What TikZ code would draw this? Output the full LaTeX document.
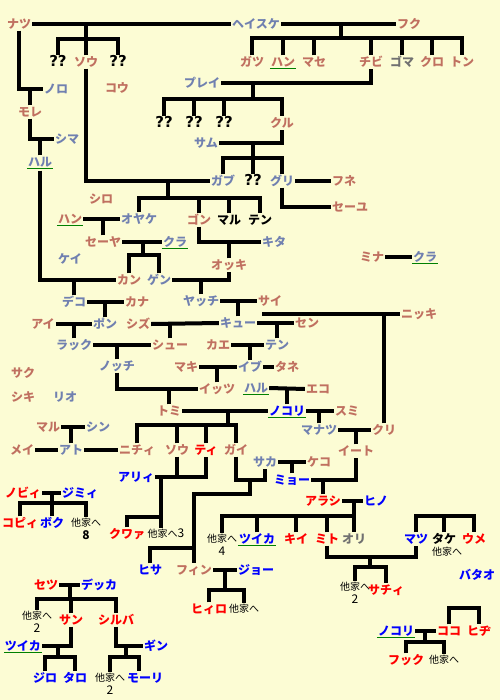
\documentclass[tikz,border=0pt]{standalone}
\usepackage{fontspec}
\newfontfamily\jpfont{Noto Sans CJK JP}
\newfontfamily\djvfont{DejaVu Sans}
\definecolor{bgc}{HTML}{FCFCD4}
\definecolor{brn}{HTML}{C07060}
\definecolor{bgr}{HTML}{7080B0}
\definecolor{blu}{HTML}{0000FF}
\definecolor{rd}{HTML}{FF0000}
\definecolor{gry}{HTML}{707070}
\definecolor{ulg}{HTML}{008000}
\newcommand{\dg}[1]{{\fontsize{12}{13}\selectfont #1}}
\tikzset{
  nm/.style={font=\jpfont\bfseries\fontsize{12}{12}\selectfont, inner sep=1pt, text height=10pt, text depth=0.8pt},
  nb/.style={nm,text=brn}, ng/.style={nm,text=bgr}, nu/.style={nm,text=blu},
  nr/.style={nm,text=rd}, nk/.style={nm,text=black}, ny/.style={nm,text=gry},
  nq/.style={font=\djvfont\bfseries\fontsize{15}{15}\selectfont, inner sep=1pt, text height=10pt, text depth=0.8pt},
  oth/.style={font=\jpfont\fontsize{10}{13}\selectfont, inner sep=1pt, align=center},
  ln/.style={line width=4pt},
  ul/.style={draw=ulg, line width=1.5pt},
}
\begin{document}
\begin{tikzpicture}[x=1pt,y=-1pt]
\fill[bgc] (0,0) rectangle (500,700);
\useasboundingbox (0,0) rectangle (500,700);
% names
\node[nb] (natsu) at (19,24) {ナツ};
\node[ng] (heisuke) at (256,24) {ヘイスケ};
\node[nb] (fuku) at (409,24) {フク};
\node[nq] (qa) at (58,62) {??};
\node[nb] (sou) at (86,62) {ソウ};
\node[nq] (qb) at (118,62) {??};
\node[nb] (kou) at (117,88) {コウ};
\node[ng] (noro) at (56,89) {ノロ};
\node[nb] (more) at (30,112) {モレ};
\node[ng] (shima) at (67,139) {シマ};
\node[ng] (haru) at (40,162) {ハル};
\foreach \n/\x/\st/\tx in {gatsu/252/nb/ガツ, han/283/nb/ハン, mase/314/nb/マセ, chibi/371/nb/チビ, goma/402/ny/ゴマ, kuro/432/nb/クロ, ton/462/nb/トン}
  \node[\st] (\n) at (\x,62) {\tx};
\node[ng] (purei) at (202,83) {プレイ};
\foreach \n/\x in {qc/164,qd/194,qe/224}
  \node[nq] (\n) at (\x,123) {??};
\node[nb] (kuru) at (282,123) {クル};
\node[ng] (samu) at (206,143) {サム};
\node[ng] (gabu) at (223,181) {ガブ};
\node[nq] (qf) at (253,181) {??};
\node[ng] (guri) at (282,181) {グリ};
\node[nb] (fune) at (344,181) {フネ};
\node[nb] (seeyu) at (350,207) {セーユ};
\node[nb] (shiro) at (101,199) {シロ};
\node[nb] (han2) at (70,219) {ハン};
\node[ng] (oyake) at (139,219) {オヤケ};
\node[nb] (gon) at (199,220) {ゴン};
\node[nk] (maru) at (229,220) {マル};
\node[nk] (ten) at (260,220) {テン};
\node[ng] (kita) at (274,242) {キタ};
\node[nb] (seeya) at (103,242) {セーヤ};
\node[ng] (kura) at (175,242) {クラ};
\node[ng] (kei) at (70,259) {ケイ};
\node[nb] (mina) at (372,257) {ミナ};
\node[ng] (kura2) at (425,257) {クラ};
\node[nb] (okki) at (229,265) {オッキ};
\node[nb] (kan) at (129,280) {カン};
\node[ng] (gen) at (159,280) {ゲン};
\node[ng] (deko) at (74,302) {デコ};
\node[nb] (kana) at (137,302) {カナ};
\node[ng] (yacchi) at (201,301) {ヤッチ};
\node[nb] (sai) at (270,301) {サイ};
\node[nb] (nikki) at (419,314) {ニッキ};
\node[nb] (ai) at (43,324) {アイ};
\node[ng] (pon) at (105,324) {ポン};
\node[nb] (shizu) at (138,324) {シズ};
\node[ng] (kyuu) at (238,323) {キュー};
\node[nb] (sen) at (307,323) {セン};
\node[ng] (rakku) at (74,345) {ラック};
\node[nb] (shuu) at (170,345) {シュー};
\node[nb] (kae) at (218,345) {カエ};
\node[ng] (ten2) at (277,345) {テン};
\node[ng] (nocchi) at (117,366) {ノッチ};
\node[nb] (maki) at (186,367) {マキ};
\node[ng] (ibu) at (250,367) {イブ};
\node[nb] (tane) at (287,367) {タネ};
\node[nb] (saku) at (23,373) {サク};
\node[nb] (shiki) at (23,397) {シキ};
\node[ng] (rio) at (65,397) {リオ};
\node[nb] (ittsu) at (217,389) {イッツ};
\node[ng] (haru2) at (256,388) {ハル};
\node[nb] (eko) at (318,389) {エコ};
\node[nb] (tomi) at (169,411) {トミ};
\node[nu] (nokori) at (287,411) {ノコリ};
\node[nb] (sumi) at (347,411) {スミ};
\node[nb] (maru2) at (48,427) {マル};
\node[ng] (shin) at (98,427) {シン};
\node[ng] (manatsu) at (319,430) {マナツ};
\node[nb] (kuri) at (384,430) {クリ};
\node[nb] (mei) at (22,450) {メイ};
\node[ng] (ato) at (71,450) {アト};
\node[nb] (nichi) at (137,450) {ニチィ};
\node[nb] (sou2) at (177,450) {ソウ};
\node[nr] (chii) at (206,450) {ティ};
\node[nb] (gai) at (236,450) {ガイ};
\node[ng] (saka) at (265,462) {サカ};
\node[nb] (keko) at (319,462) {ケコ};
\node[nb] (iito) at (356,451) {イート};
\node[nu] (arii) at (136,477) {アリィ};
\node[nu] (myoo) at (292,480) {ミョー};
\node[nr] (nobii) at (23,493) {ノビィ};
\node[nu] (jimii) at (80,493) {ジミィ};
\node[nr] (arashi) at (323,501) {アラシ};
\node[nu] (hino) at (376,501) {ヒノ};
\node[nr] (kopii) at (20,523) {コピィ};
\node[nu] (boku) at (52,523) {ボク};
\node[oth] (ot8) at (86,529) {他家へ\\\dg{\bfseries 8}};
\node[nr] (kuwaa) at (127,534) {クワァ};
\node[oth] (ot3) at (166,534) {他家へ\dg{3}};
\node[oth] (ot4) at (222,545) {他家へ\\\dg{4}};
\node[nu] (tsuika) at (257,539) {ツイカ};
\node[nr] (kii) at (296,539) {キイ};
\node[nr] (mito) at (327,539) {ミト};
\node[ny] (ori) at (354,539) {オリ};
\node[nu] (matsu) at (416,539) {マツ};
\node[nk] (take) at (444,539) {タケ};
\node[nr] (ume) at (474,539) {ウメ};
\node[oth] (ottake) at (447,552) {他家へ};
\node[nu] (hisa) at (150,570) {ヒサ};
\node[nb] (fin) at (194,570) {フィン};
\node[nu] (joo) at (256,570) {ジョー};
\node[nu] (batao) at (477,575) {バタオ};
\node[oth] (ot2a) at (355,593) {他家へ\\\dg{2}};
\node[nr] (sachii) at (386,590) {サチィ};
\node[nr] (setsu) at (46,585) {セツ};
\node[nu] (dekka) at (99,585) {デッカ};
\node[nr] (hiiro) at (209,609) {ヒィロ};
\node[oth] (otfin) at (244,609) {他家へ};
\node[oth] (ot2b) at (37,622) {他家へ\\\dg{2}};
\node[nr] (san) at (71,620) {サン};
\node[nr] (shiruba) at (116,620) {シルバ};
\node[nu] (nokori2) at (396,631) {ノコリ};
\node[nr] (koko) at (449,631) {ココ};
\node[nr] (hiji) at (479,631) {ヒヂ};
\node[nu] (tsuika2) at (23,646) {ツイカ};
\node[nu] (gin) at (156,646) {ギン};
\node[nu] (jiro) at (45,678) {ジロ};
\node[nu] (taro) at (75,678) {タロ};
\node[oth] (ot2c) at (110,684) {他家へ\\\dg{2}};
\node[nu] (moori) at (145,678) {モーリ};
\node[nr] (fukku) at (406,660) {フック};
\node[oth] (otfuk) at (444,660) {他家へ};
% lines
\draw[ln] (natsu.east) -- (heisuke.west);
\coordinate (j1) at (86,39);
\draw[ln] (qa.north) |- (j1) -| (qb.north);
\draw[ln] (sou.north) -- (sou.north |- natsu.east);
\draw[ln] (natsu.south) |- (noro.west);
\draw[ln] (more.north) -- (more.north |- noro.west);
\draw[ln] (more.south) |- (shima.west);
\draw[ln] (haru.north) -- (haru.north |- shima.west);
\draw[ln] ([yshift=-2pt]haru.south) |- (kan.west);
\draw[ln] (deko.north) -- (deko.north |- kan.west);
\draw[ln] (sou.south) |- (gabu.west);
\coordinate (j2) at (168,198);
\draw[ln] (j2 |- gabu.west) -- (j2);
\draw[ln] (oyake.north) |- (j2) -| (ten.north);
\foreach \n in {gon,maru} \draw[ln] (\n.north) -- (\n.north |- j2);
\draw[ln] (heisuke.east) -- (fuku.west);
\coordinate (j3) at (341,38);
\draw[ln] (j3 |- heisuke.east) -- (j3);
\draw[ln] (gatsu.north) |- (j3) -| (ton.north);
\foreach \n in {han,mase,chibi,goma,kuro} \draw[ln] (\n.north) -- (\n.north |- j3);
\draw[ln] (purei.east) -| (chibi.south);
\coordinate (j4) at (253,99);
\draw[ln] (j4 |- purei.east) -- (j4);
\draw[ln] (qc.north) |- (j4) -| (kuru.north);
\foreach \n in {qd,qe} \draw[ln] (\n.north) -- (\n.north |- j4);
\draw[ln] (samu.east) -| (kuru.south);
\coordinate (j5) at (253,158);
\draw[ln] (j5 |- samu.east) -- (j5);
\draw[ln] (gabu.north) |- (j5) -| (guri.north);
\draw[ln] (qf.north) -- (qf.north |- j5);
\draw[ln] (guri.east) -- (fune.west);
\draw[ln] (guri.south) |- (seeyu.west);
\draw[ln] (han2.east) -- (oyake.west);
\draw[ln] (seeya.north) -- (seeya.north |- han2.east);
\draw[ln] (seeya.east) -- (kura.west);
\coordinate (j6) at (143,255);
\draw[ln] (j6 |- kura.west) -- (j6);
\draw[ln] (kan.north) |- (j6) -| (gen.north);
\draw[ln] (gon.south) |- (kita.west);
\draw[ln] (okki.north) -- (okki.north |- kita.west);
\draw[ln] (gen.east) -| (okki.south);
\draw[ln] (yacchi.north) -- (yacchi.north |- gen.east);
\draw[ln] (deko.east) -- (kana.west);
\draw[ln] (pon.north) -- (pon.north |- kana.west);
\draw[ln] (yacchi.east) -- (sai.west);
\draw[ln] (kyuu.north) -- (kyuu.north |- sai.west);
\draw[ln] (ai.east) -- (pon.west);
\draw[ln] (rakku.north) -- (rakku.north |- pon.west);
\draw[ln] (shizu.east) -- (kyuu.west);
\draw[ln] (shuu.north) -- (shuu.north |- shizu.east);
\coordinate (k1) at (262,314);
\draw[ln] (k1) -- (nikki.west);
\draw[ln] (kuri.north) -- (kuri.north |- nikki.west);
\draw[ln] (kyuu.east) -- (sen.west);
\draw[ln] (ten2.north) -- (ten2.north |- sen.west);
\draw[ln] (kae.east) -- (ten2.west);
\draw[ln] (ibu.north) -- (ibu.north |- kae.east);
\draw[ln] (ibu.east) -- (tane.west);
\draw[ln] (maki.east) -- (ibu.west);
\draw[ln] (ittsu.north) -- (ittsu.north |- maki.east);
\draw[ln] (rakku.east) -- (shuu.west);
\draw[ln] (nocchi.north) -- (nocchi.north |- rakku.east);
\draw[ln] (nocchi.south) |- (ittsu.west);
\draw[ln] (tomi.north) -- (tomi.north |- ittsu.west);
\draw[ln] (haru2.east) -- (eko.west);
\draw[ln] (nokori.north) -- (nokori.north |- eko.west);
\draw[ln] (tomi.east) -- (nokori.west);
\coordinate (j7) at (228,425);
\draw[ln] (j7 |- tomi.east) -- (j7);
\draw[ln] (nichi.north) |- (j7) -| (gai.north);
\foreach \n in {sou2,chii} \draw[ln] (\n.north) -- (\n.north |- j7);
\draw[ln] (nokori.east) -- (sumi.west);
\draw[ln] (manatsu.north) -- (manatsu.north |- sumi.west);
\draw[ln] (manatsu.east) -- (kuri.west);
\draw[ln] (iito.north) -- (iito.north |- kuri.west);
\draw[ln] (maru2.east) -- (shin.west);
\draw[ln] (ato.north) -- (ato.north |- shin.west);
\draw[ln] (mei.east) -- (ato.west);
\draw[ln] (ato.east) -- (nichi.west);
\coordinate (j8) at (250,480);
\coordinate (j9) at (194,494);
\coordinate (j10) at (194,548);
\draw[ln] (gai.south) |- (j8) -| (saka.south);
\draw[ln] (j8) |- (j9) -- (fin.north);
\draw[ln] (hisa.north) |- (j10);
\draw[ln] (saka.east) -- (keko.west);
\draw[ln] (myoo.north) -- (myoo.north |- keko.west);
\draw[ln] (myoo.east) -| (iito.south);
\draw[ln] (arashi.north) -- (arashi.north |- myoo.east);
\draw[ln] (arashi.east) -- (hino.west);
\coordinate (j11) at (354,516);
\draw[ln] (j11 |- hino.west) -- (j11);
\draw[ln] (ot4.north) |- (j11) -- (ori.north);
\foreach \n in {tsuika,kii,mito} \draw[ln] (\n.north) -- (\n.north |- j11);
\coordinate (j12) at (161,476);
\coordinate (j13) at (161,517);
\draw[ln] (arii.east) -| (chii.south);
\draw[ln] (sou2.south) -- (sou2.south |- arii.east);
\draw[ln] (j12) -- (j12 |- ot3.north);
\draw[ln] (kuwaa.north) |- (j13);
\draw[ln] (nobii.east) -- (jimii.west);
\coordinate (j14) at (52,503);
\draw[ln] (j14 |- nobii.east) -- (j14);
\draw[ln] (kopii.north) |- (j14) -| (ot8.north);
\draw[ln] (boku.north) -- (boku.north |- j14);
\coordinate (j15) at (370,557);
\coordinate (j16) at (370,567);
\draw[ln] (mito.south) |- (j15) -| (matsu.south);
\draw[ln] (j15) -- (j16);
\draw[ln] (ot2a.north) |- (j16) -| (sachii.north);
\coordinate (j17) at (444,516);
\draw[ln] (matsu.north) |- (j17) -| (ume.north);
\draw[ln] (take.north) -- (take.north |- j17);
\draw[ln] (fin.east) -- (joo.west);
\coordinate (j18) at (225,590);
\draw[ln] (j18 |- fin.east) -- (j18);
\draw[ln] (hiiro.north) |- (j18) -| (otfin.north);
\draw[ln] (setsu.east) -- (dekka.west);
\coordinate (j19) at (70,599);
\draw[ln] (j19 |- setsu.east) -- (j19);
\draw[ln] (ot2b.north) |- (j19) -| (shiruba.north);
\draw[ln] (san.north) -- (san.north |- j19);
\draw[ln] (san.south) |- (tsuika2.east);
\coordinate (j20) at (58,657);
\draw[ln] (j20 |- tsuika2.east) -- (j20);
\draw[ln] (jiro.north) |- (j20) -| (taro.north);
\draw[ln] (shiruba.south) |- (gin.west);
\coordinate (j21) at (126,657);
\draw[ln] (j21 |- gin.west) -- (j21);
\draw[ln] (ot2c.north) |- (j21) -| ([xshift=-6pt]moori.north);
\draw[ln] (nokori2.east) -- (koko.west);
\coordinate (j22) at (425,642);
\draw[ln] (j22 |- koko.west) -- (j22);
\draw[ln] (fukku.north) |- (j22) -| (otfuk.north);
\coordinate (j23) at (463,608);
\draw[ln] (koko.north) |- (j23) -| (hiji.north);
\draw[ln] (mina.east) -- (kura2.west);
% underlines
\foreach \n in {han,han2,haru,haru2,kura,kura2,nokori,nokori2,tsuika,tsuika2}
  \draw[ul] (\n.south west) -- (\n.south east);
\end{tikzpicture}
\end{document}
